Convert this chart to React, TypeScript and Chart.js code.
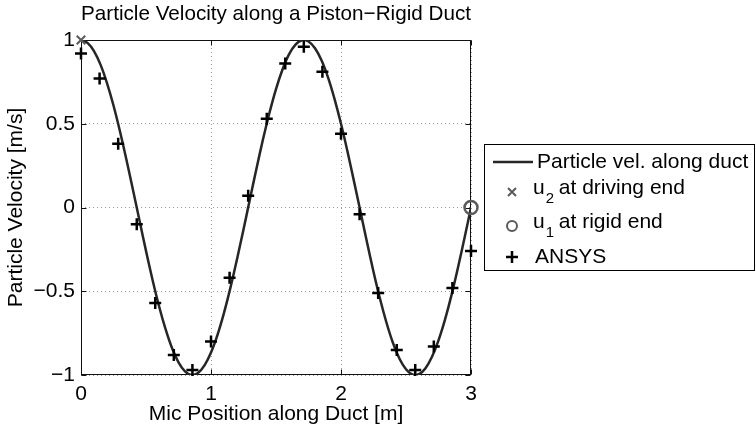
import React, { useEffect, useRef } from 'react';
import { Chart, registerables } from 'chart.js';

Chart.register(...registerables);

const FONT = "'Liberation Sans', Arial, Helvetica, sans-serif";

// Analytical curve (m, m/s)
const posX = [
  0, 0.05, 0.1, 0.15, 0.2, 0.25, 0.3, 0.35, 0.4, 0.45,
  0.5, 0.55, 0.6, 0.65, 0.7, 0.75, 0.8, 0.85, 0.9, 0.95,
  1.0, 1.05, 1.1, 1.15, 1.2, 1.25, 1.3, 1.35, 1.4, 1.45,
  1.5, 1.55, 1.6, 1.65, 1.7, 1.75, 1.8, 1.85, 1.9, 1.95,
  2.0, 2.05, 2.1, 2.15, 2.2, 2.25, 2.3, 2.35, 2.4, 2.45,
  2.5, 2.55, 2.6, 2.65, 2.7, 2.75, 2.8, 2.85, 2.9, 2.95, 3.0,
];
const curveVel = [
  1.0, 0.983, 0.934, 0.853, 0.743, 0.609, 0.454, 0.284, 0.105, -0.078,
  -0.259, -0.431, -0.588, -0.725, -0.839, -0.924, -0.978, -1.0, -0.988, -0.943,
  -0.866, -0.76, -0.629, -0.477, -0.309, -0.131, 0.052, 0.233, 0.407, 0.566,
  0.707, 0.824, 0.914, 0.972, 0.999, 0.991, 0.951, 0.879, 0.777, 0.649,
  0.5, 0.334, 0.156, -0.026, -0.208, -0.383, -0.545, -0.688, -0.809, -0.903,
  -0.966, -0.997, -0.995, -0.959, -0.891, -0.793, -0.669, -0.523, -0.358, -0.182, 0.0,
];

// ANSYS samples
const ansysX = [
  0, 0.143, 0.286, 0.429, 0.571, 0.714, 0.857, 1.0, 1.143, 1.286, 1.429,
  1.571, 1.714, 1.857, 2.0, 2.143, 2.286, 2.429, 2.571, 2.714, 2.857, 3.0,
];
const ansysVel = [
  0.92, 0.77, 0.38, -0.1, -0.57, -0.88, -0.97, -0.8, -0.42, 0.07, 0.53,
  0.86, 0.96, 0.81, 0.44, -0.04, -0.51, -0.85, -0.97, -0.83, -0.48, -0.26,
];

// End points
const drivingX = [0];
const drivingVel = [1];
const rigidX = [3];
const rigidVel = [0];

const xTicks = [0, 1, 2, 3];
const xTickLabels = ['0', '1', '2', '3'];
const yTicks = [-1, -0.5, 0, 0.5, 1];
const yTickLabels = ['\u22121', '\u22120.5', '0', '0.5', '1'];

const titleText = 'Particle Velocity along a Piston\u2212Rigid Duct';
const xTitle = 'Mic Position along Duct [m]';
const yTitle = 'Particle Velocity [m/s]';
const legendLabels = ['Particle vel. along duct', 'u', 'u', 'ANSYS'];

const LINE_COLOR = '#262626';
const MARK_GRAY = '#5a5a5a';

const zip = (xs: number[], ys: number[]) => xs.map((x, i) => ({ x, y: ys[i] }));

const framePlugin = {
  id: 'frame',
  beforeDatasetsDraw(chart: any) {
    const { ctx, chartArea: a, scales } = chart;
    ctx.save();
    ctx.strokeStyle = '#111';
    ctx.lineWidth = 1;
    const L = Math.round(a.left) + 0.5;
    const R = Math.round(a.right) - 0.5;
    const T = Math.round(a.top) + 0.5;
    const B = Math.round(a.bottom) - 0.5;
    ctx.strokeRect(L, T, R - L, B - T);
    const tl = 5;
    ctx.beginPath();
    xTicks.forEach((v) => {
      const p = Math.round(scales.x.getPixelForValue(v)) + 0.5;
      ctx.moveTo(p, B);
      ctx.lineTo(p, B - tl);
      ctx.moveTo(p, T);
      ctx.lineTo(p, T + tl);
    });
    yTicks.forEach((v) => {
      const p = Math.round(scales.y.getPixelForValue(v)) + 0.5;
      ctx.moveTo(L, p);
      ctx.lineTo(L + tl, p);
      ctx.moveTo(R, p);
      ctx.lineTo(R - tl, p);
    });
    ctx.stroke();
    ctx.restore();
  },
};

const legendPlugin = {
  id: 'customLegend',
  afterDraw(chart: any) {
    const { ctx } = chart;
    ctx.save();
    const bx = 484.5, by = 144.5, bw = 270, bh = 126;
    ctx.fillStyle = '#fff';
    ctx.fillRect(bx, by, bw, bh);
    ctx.strokeStyle = '#000';
    ctx.lineWidth = 1;
    ctx.strokeRect(bx, by, bw, bh);

    const mx = 512;
    const rows = [162, 192, 226, 257];
    ctx.font = `21px ${FONT}`;
    ctx.fillStyle = '#000';
    ctx.textBaseline = 'middle';
    ctx.textAlign = 'left';

    // row 1: line
    ctx.strokeStyle = LINE_COLOR;
    ctx.lineWidth = 2.5;
    ctx.beginPath();
    ctx.moveTo(493, rows[0]);
    ctx.lineTo(533, rows[0]);
    ctx.stroke();
    ctx.fillText(legendLabels[0], 537, rows[0]);

    // row 2: x marker
    ctx.strokeStyle = MARK_GRAY;
    ctx.lineWidth = 2;
    const s = 4;
    ctx.beginPath();
    ctx.moveTo(mx - s, rows[1] - s);
    ctx.lineTo(mx + s, rows[1] + s);
    ctx.moveTo(mx + s, rows[1] - s);
    ctx.lineTo(mx - s, rows[1] + s);
    ctx.stroke();

    // row 3: circle
    ctx.beginPath();
    ctx.arc(mx, rows[2], 5, 0, Math.PI * 2);
    ctx.stroke();

    // row 4: plus
    ctx.strokeStyle = '#000';
    ctx.lineWidth = 2.5;
    const p = 6;
    ctx.beginPath();
    ctx.moveTo(mx - p, rows[3]);
    ctx.lineTo(mx + p, rows[3]);
    ctx.moveTo(mx, rows[3] - p);
    ctx.lineTo(mx, rows[3] + p);
    ctx.stroke();

    const drawSub = (y: number, sub: string, rest: string) => {
      const ty = y - 4;
      ctx.font = `21px ${FONT}`;
      ctx.fillText('u', 533, ty);
      const uw = ctx.measureText('u').width;
      ctx.font = `15px ${FONT}`;
      ctx.fillText(sub, 533 + uw + 1, ty + 11);
      ctx.font = `21px ${FONT}`;
      ctx.fillText(rest, 553, ty);
    };
    drawSub(rows[1], '2', ' at driving end');
    drawSub(rows[2], '1', ' at rigid end');
    ctx.font = `21px ${FONT}`;
    ctx.fillText(legendLabels[3], 535, rows[3]);
    ctx.restore();
  },
};

export default function App() {
  const ref = useRef<HTMLCanvasElement | null>(null);

  useEffect(() => {
    document.body.style.margin = '0';
    const canvas = ref.current;
    if (!canvas) return;
    const chart = new Chart(canvas, {
      type: 'line',
      data: {
        datasets: [
          {
            label: legendLabels[0],
            data: zip(posX, curveVel),
            borderColor: LINE_COLOR,
            borderWidth: 2.5,
            pointRadius: 0,
            tension: 0.3,
            fill: false,
            order: 4,
          },
          {
            label: 'u2 at driving end',
            data: zip(drivingX, drivingVel),
            showLine: false,
            pointStyle: 'crossRot',
            pointRadius: 6,
            pointBorderWidth: 2,
            pointBorderColor: MARK_GRAY,
            borderColor: MARK_GRAY,
            clip: false,
            order: 2,
          },
          {
            label: 'u1 at rigid end',
            data: zip(rigidX, rigidVel),
            showLine: false,
            pointStyle: 'circle',
            pointRadius: 6.5,
            pointBorderWidth: 2.5,
            pointBorderColor: MARK_GRAY,
            pointBackgroundColor: 'rgba(0,0,0,0)',
            borderColor: MARK_GRAY,
            clip: false,
            order: 3,
          },
          {
            label: legendLabels[3],
            data: zip(ansysX, ansysVel),
            showLine: false,
            pointStyle: 'cross',
            pointRadius: 6,
            pointBorderWidth: 2.5,
            pointBorderColor: '#000',
            borderColor: '#000',
            clip: false,
            order: 1,
          },
        ],
      },
      options: {
        responsive: false,
        devicePixelRatio: 1,
        animation: false,
        layout: { padding: { left: 0, right: 285, top: 0, bottom: 0 } },
        plugins: {
          legend: { display: false },
          tooltip: { enabled: false },
          title: {
            display: true,
            text: titleText,
            fullSize: false,
            color: '#000',
            font: { family: FONT, size: 21, weight: 'normal', lineHeight: 1.2 },
            padding: { top: 2, bottom: 12.8 },
          },
        },
        scales: {
          x: {
            type: 'linear',
            min: 0,
            max: 3,
            afterBuildTicks: (s: any) => {
              s.ticks = xTicks.map((v) => ({ value: v }));
            },
            afterFit: (s: any) => {
              s.height = 52;
            },
            ticks: {
              autoSkip: false,
              maxRotation: 0,
              padding: 7,
              color: '#000',
              font: { family: FONT, size: 21 },
              callback: (v: any) => xTickLabels[xTicks.indexOf(Number(v))] ?? '',
            },
            grid: { color: '#9a9a9a', lineWidth: 1, drawTicks: false },
            border: { display: false, dash: [1, 3] },
            title: {
              display: true,
              text: xTitle,
              color: '#000',
              font: { family: FONT, size: 21, lineHeight: 1.2 },
              padding: { top: 0, bottom: 0 },
            },
          },
          y: {
            type: 'linear',
            min: -1,
            max: 1,
            afterBuildTicks: (s: any) => {
              s.ticks = yTicks.map((v) => ({ value: v }));
            },
            afterFit: (s: any) => {
              s.width = 81;
            },
            ticks: {
              autoSkip: false,
              padding: 6,
              color: '#000',
              font: { family: FONT, size: 21 },
              callback: (v: any) => yTickLabels[yTicks.indexOf(Number(v))] ?? '',
            },
            grid: { color: '#9a9a9a', lineWidth: 1, drawTicks: false },
            border: { display: false, dash: [1, 3] },
            title: {
              display: true,
              text: yTitle,
              color: '#000',
              font: { family: FONT, size: 21, lineHeight: 1.2 },
              padding: { top: 4, bottom: 0 },
            },
          },
        },
      },
      plugins: [framePlugin, legendPlugin],
    } as any);
    return () => chart.destroy();
  }, []);

  return (
    <div style={{ position: 'fixed', left: 0, top: 0, width: 756, height: 427, background: '#fff' }}>
      <canvas ref={ref} width={756} height={427} />
    </div>
  );
}
